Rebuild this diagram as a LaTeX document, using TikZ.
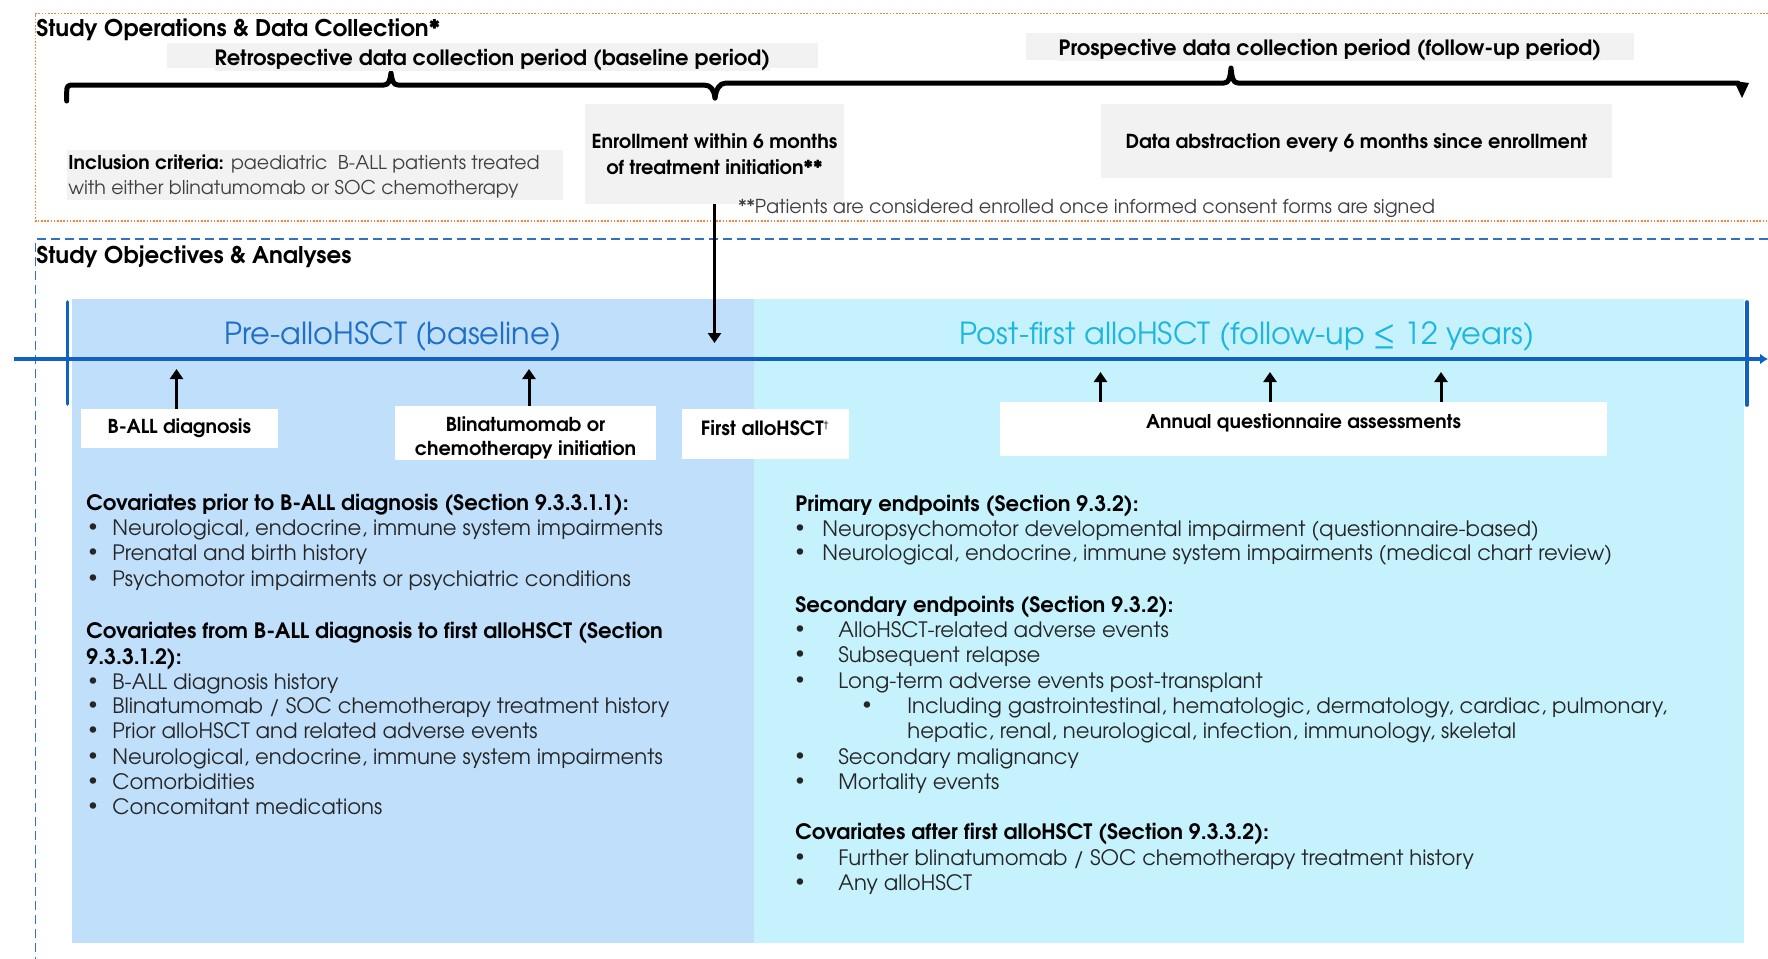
\documentclass[tikz,border=0pt]{standalone}
\usepackage{fontspec}
\setmainfont{TeX Gyre Adventor}
\usetikzlibrary{arrows.meta}
\definecolor{boxgray}{HTML}{F2F2F2}
\definecolor{dotorange}{HTML}{F4843C}
\definecolor{dashblue}{HTML}{2F72C4}
\definecolor{preblue}{HTML}{BFDFFB}
\definecolor{postcyan}{HTML}{C6F2FD}
\definecolor{tlblue}{HTML}{0F62C2}
\definecolor{pretxt}{HTML}{1F6FC5}
\definecolor{posttxt}{HTML}{1EB6DE}
\definecolor{bodytxt}{HTML}{262626}
\definecolor{graytxt}{HTML}{404040}
\tikzset{
  gbox/.style={fill=boxgray, inner sep=0pt, align=center, font=\bfseries\fontsize{10.55}{13}\selectfont},
  wbox/.style={fill=white, inner sep=0pt, align=center, font=\bfseries\fontsize{9.6}{12}\selectfont},
  btxt/.style={inner sep=0pt, align=center},
  ttl/.style={anchor=west, inner sep=0pt, font=\bfseries\fontsize{11.5}{13}\selectfont, text height=0.75em, text depth=0.05em},
  hd/.style={anchor=west, inner sep=0pt, font=\bfseries\fontsize{10.6}{12}\selectfont, text height=0.75em, text depth=0.05em},
  itm/.style={anchor=west, inner sep=0pt, text=bodytxt, font=\fontsize{10.6}{12}\selectfont, text height=0.75em, text depth=0.05em},
  bl/.style={inner sep=0pt, text=bodytxt, font=\fontsize{9}{10}\selectfont},
  upar/.style={-{Triangle[length=5pt,width=6.5pt]}, line width=1.5pt},
  bracepath/.style={line width=2.5pt, line join=round, line cap=round},
}
\begin{document}
\begin{tikzpicture}[x=0.5pt,y=-0.5pt]
\useasboundingbox (0,0) rectangle (1768,959);
\fill[white] (0,0) rectangle (1768,959);
% frames
\draw[dotorange, line width=0.8pt, dash pattern=on 0.8pt off 0.8pt] (1768,13.5) -- (35.5,13.5) -- (35.5,221) -- (1768,221);
\draw[dashblue, line width=0.8pt, dash pattern=on 4.5pt off 2.5pt] (1768,239) -- (35.5,239) -- (35.5,959);
% regions
\fill[preblue] (72,299) rectangle (754,943);
\fill[postcyan] (754,299) rectangle (1744,943);
% timeline
\draw[tlblue, line width=1.8pt, -{Latex[length=4pt,width=5.5pt]}] (14,359) -- (1768,359);
\draw[tlblue, line width=1.8pt, line cap=round] (67.6,302) -- (67.6,404);
\draw[tlblue, line width=1.8pt, line cap=round] (1747,302) -- (1747,405);
% titles
\node[ttl] (t1) at (36,29.3) {Study Operations \& Data Collection*};
\node[ttl] (t2) at (36,256) {Study Objectives \& Analyses};
% braces
\draw[bracepath] (66.7,101) -- (66.7,92) .. controls (66.7,86) and (68,85) .. (73,85) -- (384,85) .. controls (389,85) and (390,80) .. (391,73) .. controls (392,80) and (393,85) .. (398,85) -- (704,85) .. controls (711,85) and (714,90) .. (715,98);
\draw[bracepath] (715,98) .. controls (716,90) and (719,83) .. (726,83) -- (1224,83) .. controls (1229,83) and (1230,78) .. (1231,68) .. controls (1232,78) and (1233,83) .. (1238,83) -- (1738,83);
\fill (1734,81) -- (1749,83) -- (1742,98) -- cycle;
% top boxes
\node[gbox, minimum width=325.5pt, minimum height=12.5pt] (retro) at (492.5,55.5) {};
\node[gbox, btxt] (retrotxt) at ([yshift=-2.25pt]retro.center) {Retrospective data collection period (baseline period)};
\node[gbox, minimum width=304pt, minimum height=13.5pt] (prosp) at (1330,46.5) {};
\node[gbox, btxt] (prosptxt) at ([yshift=-1.7pt]prosp.center) {Prospective data collection period (follow-up period)};
\node[gbox, font=\bfseries\fontsize{9.65}{13}\selectfont, minimum width=129.5pt, minimum height=50pt] (enroll) at (714.5,154) {Enrollment within 6 months\\of treatment initiation**};
\node[gbox, minimum width=248.25pt, minimum height=25pt] (inclbox) at (314.75,175) {};
\node[anchor=west, inner sep=0pt, align=left, text=graytxt, font=\fontsize{9.5}{12.5}\selectfont] (incl) at (68,176.5) {\textcolor{black}{\bfseries Inclusion criteria:} paediatric\ \ B-ALL patients treated\\with either blinatumomab or SOC chemotherapy};
\node[gbox, minimum width=255.5pt, minimum height=37pt] (dabs) at (1356.5,141) {};
\node[btxt, font=\bfseries\fontsize{9.65}{13}\selectfont] (dabstxt) at ([yshift=-1pt]dabs.center) {Data abstraction every 6 months since enrollment};
\node[anchor=west, inner sep=0pt, text=graytxt, font=\fontsize{9.6}{10}\selectfont, text height=0.75em, text depth=0.05em] (foot) at (738,206) {**Patients are considered enrolled once informed consent forms are signed};
% enrollment arrow
\coordinate (e1) at (714.5,343);
\draw[upar] (enroll.south) -- (e1);
% period labels
\node[inner sep=0pt, text=pretxt, font=\fontsize{15.2}{18}\selectfont] (prelab) at (393,336) {Pre-alloHSCT (baseline)};
\node[inner sep=0pt, text=posttxt, font=\fontsize{15.2}{18}\selectfont] (postlab) at (1247,336) {Post-first alloHSCT (follow-up ≤ 12 years)};
% event boxes
\node[wbox, minimum width=98.7pt, minimum height=19.5pt] (ball) at (179.3,428.5) {B-ALL diagnosis};
\node[wbox, minimum width=130.5pt, minimum height=27pt] (blin) at (525.5,433) {};
\node[wbox, btxt] (blintxt) at ([yshift=-2.5pt]blin.center) {Blinatumomab or\\chemotherapy initiation};
\node[wbox, minimum width=83.5pt, minimum height=25pt] (fah) at (765.5,434) {};
\node[inner sep=0pt, font=\bfseries\fontsize{9.8}{11}\selectfont] (fahtxt) at ([yshift=3pt]fah.center) {First alloHSCT\textsuperscript{\normalfont\tiny †}};
\node[wbox, minimum width=303.5pt, minimum height=27pt] (ann) at (1303.5,429) {};
\node[inner sep=0pt, font=\bfseries\fontsize{9.5}{11}\selectfont] (anntxt) at ([yshift=3pt]ann.center) {Annual questionnaire assessments};
% up arrows
\coordinate (a1) at (176.5,369);
\coordinate (a2) at (529,369);
\coordinate (a3) at (1100.5,372);
\coordinate (a4) at (1270,372);
\coordinate (a5) at (1441,372);
\draw[upar] (ball.north -| a1) -- (a1);
\draw[upar] (blin.north -| a2) -- (a2);
\draw[upar] (ann.north -| a3) -- (a3);
\draw[upar] (ann.north -| a4) -- (a4);
\draw[upar] (ann.north -| a5) -- (a5);
% left block
\node[hd] (lh1) at (86,503) {Covariates prior to B-ALL diagnosis (Section 9.3.3.1.1):};
\foreach \y/\t [count=\i] in {528/{Neurological, endocrine, immune system impairments},553/{Prenatal and birth history},579/{Psychomotor impairments or psychiatric conditions}}{
  \node[bl] (lb1\i) at (93,\y) {\textbullet};
  \node[itm] (li1\i) at (112,\y) {\t};
}
\node[hd] (lh2a) at (86,631) {Covariates from B-ALL diagnosis to first alloHSCT (Section};
\node[hd] (lh2b) at (86,657) {9.3.3.1.2):};
\foreach \y/\t [count=\i] in {682/{B-ALL diagnosis history},706/{Blinatumomab / SOC chemotherapy treatment history},731/{Prior alloHSCT and related adverse events},757/{Neurological, endocrine, immune system impairments},782/{Comorbidities},807/{Concomitant medications}}{
  \node[bl] (lb2\i) at (93,\y) {\textbullet};
  \node[itm] (li2\i) at (112,\y) {\t};
}
% right block
\node[hd] (rh1) at (795,504) {Primary endpoints (Section 9.3.2):};
\foreach \y/\t [count=\i] in {529/{Neuropsychomotor developmental impairment (questionnaire-based)},553/{Neurological, endocrine, immune system impairments (medical chart review)}}{
  \node[bl] (rb1\i) at (800,\y) {\textbullet};
  \node[itm] (ri1\i) at (822,\y) {\t};
}
\node[hd] (rh2) at (795,605) {Secondary endpoints (Section 9.3.2):};
\foreach \y/\t [count=\i] in {630/{AlloHSCT-related adverse events},655/{Subsequent relapse},681/{Long-term adverse events post-transplant},757/{Secondary malignancy},782/{Mortality events}}{
  \node[bl] (rb2\i) at (800,\y) {\textbullet};
  \node[itm] (ri2\i) at (838,\y) {\t};
}
\node[bl] (rsb) at (867,706) {\textbullet};
\node[itm] (rs1) at (907,706) {Including gastrointestinal, hematologic, dermatology, cardiac, pulmonary,};
\node[itm] (rs2) at (907,731) {hepatic, renal, neurological, infection, immunology, skeletal};
\node[hd] (rh3) at (795,832) {Covariates after first alloHSCT (Section 9.3.3.2):};
\foreach \y/\t [count=\i] in {858/{Further blinatumomab / SOC chemotherapy treatment history},883/{Any alloHSCT}}{
  \node[bl] (rb3\i) at (800,\y) {\textbullet};
  \node[itm] (ri3\i) at (838,\y) {\t};
}
\end{tikzpicture}
\end{document}
